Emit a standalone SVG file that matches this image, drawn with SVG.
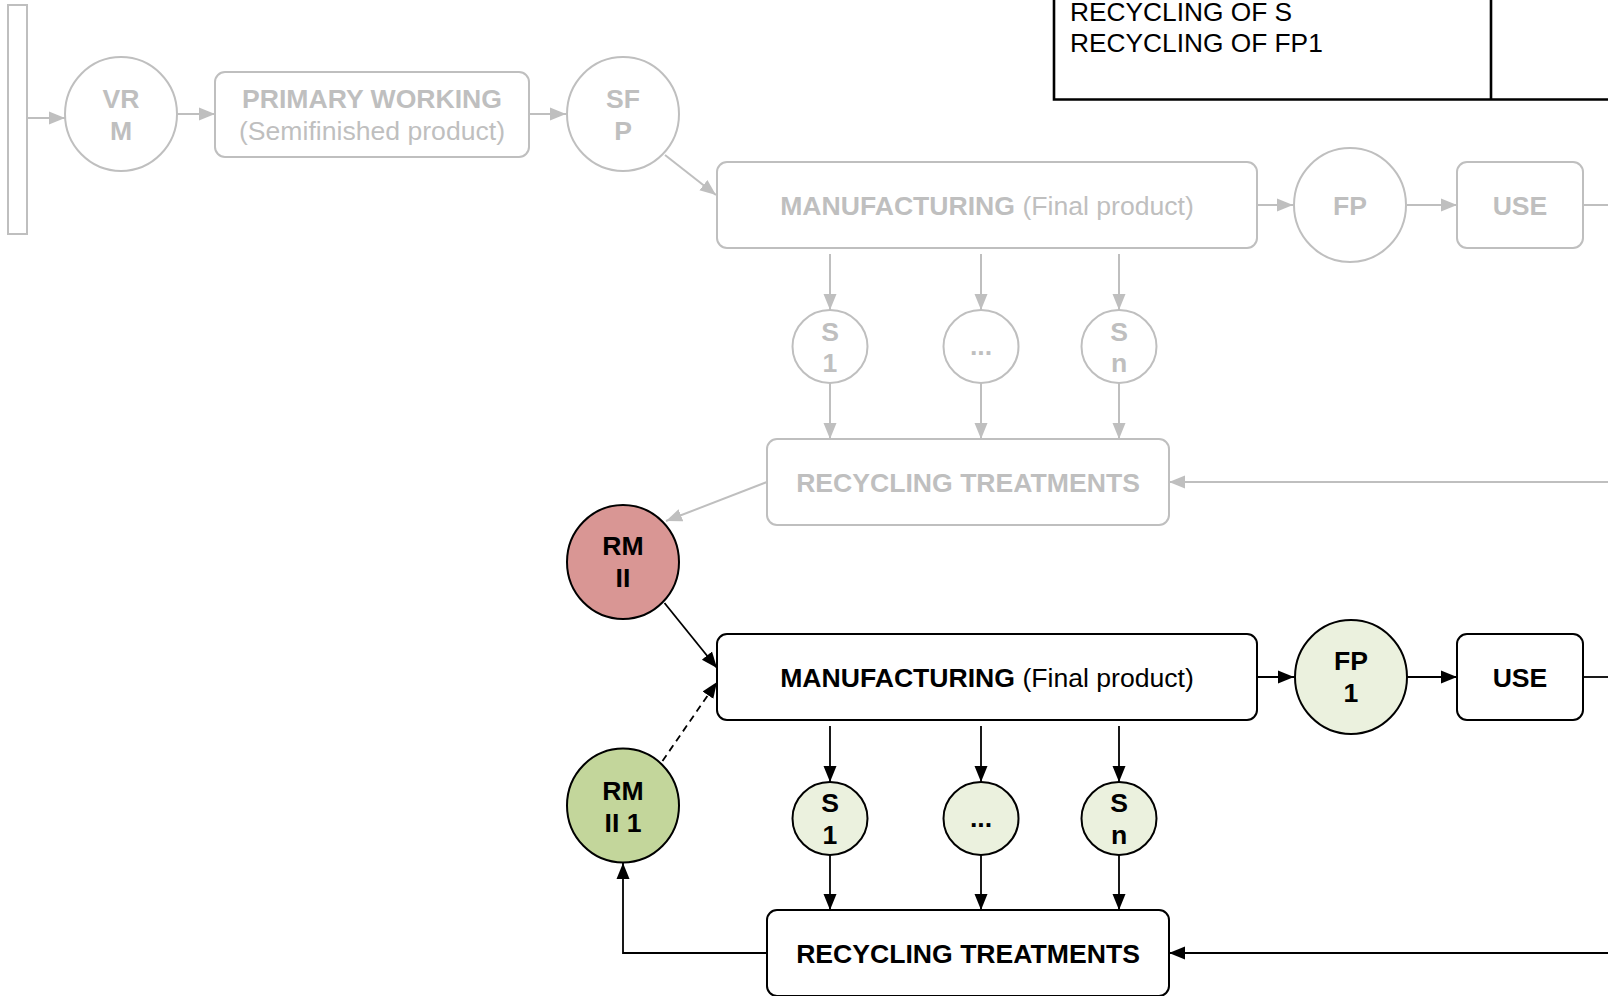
<svg xmlns="http://www.w3.org/2000/svg" width="1608" height="996" viewBox="0 0 1608 996">
  <defs>
    <marker id="ahGray" markerUnits="userSpaceOnUse" markerWidth="17" markerHeight="15" refX="16" refY="7.5" orient="auto">
      <path d="M0,1 L16,7.5 L0,14 z" fill="#bfbfbf"/>
    </marker>
    <marker id="ahBlack" markerUnits="userSpaceOnUse" markerWidth="17" markerHeight="15" refX="16" refY="7.5" orient="auto">
      <path d="M0,1 L16,7.5 L0,14 z" fill="#000"/>
    </marker>
  </defs>
  <style>
    text { font-family: "Liberation Sans", Arial, Helvetica, sans-serif; font-size: 26.6px; }
    .b { font-weight: bold; }
    .g text, text.g { fill: #bfbfbf; }
    .gshape { fill: #fff; stroke: #bfbfbf; stroke-width: 2; }
    .kshape { stroke: #000; stroke-width: 2; }
    .gline { fill: none; stroke: #bfbfbf; stroke-width: 2; }
    .kline { fill: none; stroke: #000; stroke-width: 1.8; }
    .ga { marker-end: url(#ahGray); }
    .ka { marker-end: url(#ahBlack); }
    .mid { text-anchor: middle; }
  </style>

  <rect width="1608" height="996" fill="#fff"/>

  <!-- legend frame at the top right -->
  <g id="legend">
    <path d="M1054,0 V99.5 H1608 M1491,0 V99.5" fill="none" stroke="#000" stroke-width="2.6"/>
    <text x="1070" y="20.5" style="font-size:26.3px">RECYCLING OF S</text>
    <text x="1070" y="51.5" style="font-size:26.3px">RECYCLING OF FP1</text>
  </g>

  <!-- connectors -->
  <g id="connectors">
    <!-- first cycle (grey) -->
    <line class="gline ga" x1="27" y1="118" x2="65" y2="118"/>
    <line class="gline ga" x1="177" y1="114" x2="215" y2="114"/>
    <line class="gline ga" x1="529" y1="114" x2="566" y2="114"/>
    <line class="gline ga" x1="665" y1="155" x2="716" y2="195"/>
    <line class="gline ga" x1="1257" y1="205" x2="1293" y2="205"/>
    <line class="gline ga" x1="1407" y1="205" x2="1457" y2="205"/>
    <line class="gline" x1="1583" y1="205" x2="1608" y2="205"/>
    <line class="gline ga" x1="830" y1="254" x2="830" y2="310"/>
    <line class="gline ga" x1="981" y1="254" x2="981" y2="310"/>
    <line class="gline ga" x1="1119" y1="254" x2="1119" y2="310"/>
    <line class="gline ga" x1="830" y1="383" x2="830" y2="439"/>
    <line class="gline ga" x1="981" y1="383" x2="981" y2="439"/>
    <line class="gline ga" x1="1119" y1="383" x2="1119" y2="439"/>
    <line class="gline ga" x1="1608" y1="482" x2="1169" y2="482"/>
    <line class="gline ga" x1="767" y1="482" x2="666" y2="521"/>

    <!-- second cycle (black) -->
    <line class="kline ka" x1="664.5" y1="603" x2="717" y2="668"/>
    <line class="kline ka" x1="662.5" y1="761" x2="717" y2="682" stroke-dasharray="7,5"/>
    <line class="kline ka" x1="1257" y1="677" x2="1294" y2="677"/>
    <line class="kline ka" x1="1407" y1="677" x2="1457" y2="677"/>
    <line class="kline" x1="1583" y1="677" x2="1608" y2="677"/>
    <line class="kline ka" x1="830" y1="726" x2="830" y2="782"/>
    <line class="kline ka" x1="981" y1="726" x2="981" y2="782"/>
    <line class="kline ka" x1="1119" y1="726" x2="1119" y2="782"/>
    <line class="kline ka" x1="830" y1="855" x2="830" y2="910"/>
    <line class="kline ka" x1="981" y1="855" x2="981" y2="910"/>
    <line class="kline ka" x1="1119" y1="855" x2="1119" y2="910"/>
    <line class="kline ka" x1="1608" y1="953" x2="1169" y2="953"/>
    <polyline class="kline ka" points="767,953 623,953 623,863"/>
  </g>

  <!-- first cycle nodes (grey) -->
  <g id="source" class="g">
    <rect class="gshape" x="8" y="5" width="19" height="229"/>
  </g>
  <g id="vrm" class="g">
    <ellipse class="gshape" cx="121" cy="114" rx="56" ry="57"/>
    <text class="b mid" x="121" y="107.5">VR</text>
    <text class="b mid" x="121" y="139.5">M</text>
  </g>
  <g id="primary-working" class="g">
    <rect class="gshape" x="215" y="72" width="314" height="85" rx="10"/>
    <text class="b mid" x="372" y="108">PRIMARY WORKING</text>
    <text class="mid" x="372" y="140">(Semifinished product)</text>
  </g>
  <g id="sfp" class="g">
    <ellipse class="gshape" cx="623" cy="114" rx="56" ry="57"/>
    <text class="b mid" x="623" y="107.5">SF</text>
    <text class="b mid" x="623" y="139.5">P</text>
  </g>
  <g id="manufacturing-1" class="g">
    <rect class="gshape" x="717" y="162" width="540" height="86" rx="10"/>
    <text class="mid" x="987" y="215"><tspan class="b">MANUFACTURING</tspan> (Final product)</text>
  </g>
  <g id="fp" class="g">
    <ellipse class="gshape" cx="1350" cy="205" rx="56" ry="57"/>
    <text class="b mid" x="1350" y="214.5">FP</text>
  </g>
  <g id="use-1" class="g">
    <rect class="gshape" x="1457" y="162" width="126" height="86" rx="10"/>
    <text class="b mid" x="1520" y="214.5">USE</text>
  </g>
  <g id="s1-1" class="g">
    <ellipse class="gshape" cx="830" cy="346.5" rx="37.5" ry="36.5"/>
    <text class="b mid" x="830" y="340.5">S</text>
    <text class="b mid" x="830" y="372">1</text>
  </g>
  <g id="sdots-1" class="g">
    <ellipse class="gshape" cx="981" cy="346.5" rx="37.5" ry="36.5"/>
    <text class="b mid" x="981" y="355">...</text>
  </g>
  <g id="sn-1" class="g">
    <ellipse class="gshape" cx="1119" cy="346.5" rx="37.5" ry="36.5"/>
    <text class="b mid" x="1119" y="340.5">S</text>
    <text class="b mid" x="1119" y="372">n</text>
  </g>
  <g id="recycling-1" class="g">
    <rect class="gshape" x="767" y="439" width="402" height="86" rx="10"/>
    <text class="b mid" x="968" y="491.5">RECYCLING TREATMENTS</text>
  </g>

  <!-- second cycle nodes -->
  <g id="rm-ii">
    <ellipse class="kshape" fill="#d99694" cx="623" cy="562" rx="56" ry="57"/>
    <text class="b mid" x="623" y="555">RM</text>
    <text class="b mid" x="623" y="587">II</text>
  </g>
  <g id="manufacturing-2">
    <rect class="kshape" fill="#fff" x="717" y="634" width="540" height="86" rx="10"/>
    <text class="mid" x="987" y="687"><tspan class="b">MANUFACTURING</tspan> (Final product)</text>
  </g>
  <g id="fp1">
    <ellipse class="kshape" fill="#ebf1de" cx="1351" cy="677" rx="56" ry="57"/>
    <text class="b mid" x="1351" y="670">FP</text>
    <text class="b mid" x="1351" y="702">1</text>
  </g>
  <g id="use-2">
    <rect class="kshape" fill="#fff" x="1457" y="634" width="126" height="86" rx="10"/>
    <text class="b mid" x="1520" y="686.5">USE</text>
  </g>
  <g id="rm-ii-1">
    <ellipse class="kshape" fill="#c3d69b" cx="623" cy="805.5" rx="56" ry="57"/>
    <text class="b mid" x="623" y="800">RM</text>
    <text class="b mid" x="623" y="832">II 1</text>
  </g>
  <g id="s1-2">
    <ellipse class="kshape" fill="#ebf1de" cx="830" cy="818.5" rx="37.5" ry="36.5"/>
    <text class="b mid" x="830" y="812">S</text>
    <text class="b mid" x="830" y="843.5">1</text>
  </g>
  <g id="sdots-2">
    <ellipse class="kshape" fill="#ebf1de" cx="981" cy="818.5" rx="37.5" ry="36.5"/>
    <text class="b mid" x="981" y="827">...</text>
  </g>
  <g id="sn-2">
    <ellipse class="kshape" fill="#ebf1de" cx="1119" cy="818.5" rx="37.5" ry="36.5"/>
    <text class="b mid" x="1119" y="812">S</text>
    <text class="b mid" x="1119" y="843.5">n</text>
  </g>
  <g id="recycling-2">
    <rect class="kshape" fill="#fff" x="767" y="910" width="402" height="86" rx="10"/>
    <text class="b mid" x="968" y="963">RECYCLING TREATMENTS</text>
  </g>
</svg>
